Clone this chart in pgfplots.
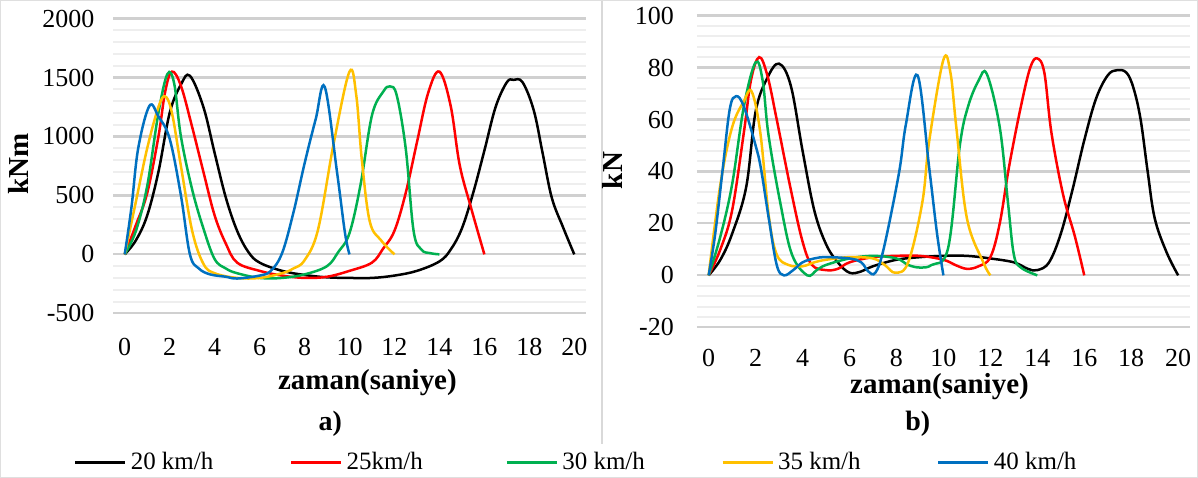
\documentclass[border=0pt]{standalone}
\usepackage{pgfplots}
\pgfplotsset{compat=1.18}
\usepackage{fontspec}
\setmainfont{Liberation Serif}
\definecolor{cA}{HTML}{000000}
\definecolor{cB}{HTML}{FF0000}
\definecolor{cC}{HTML}{00B050}
\definecolor{cD}{HTML}{FFC000}
\definecolor{cE}{HTML}{0070C0}
\definecolor{majg}{HTML}{D0D0D0}
\definecolor{ming}{HTML}{EEEEEE}
\pgfplotsset{
  panel/.style={
    scale only axis,
    anchor=south west,
    xmin=-0.5, xmax=20.5,
    xtick={0,2,...,20},
    axis line style={draw=none},
    tick style={draw=none},
    ymajorgrids, yminorgrids,
    minor y tick num=4,
    major grid style={majg, line width=1.1pt},
    minor grid style={ming, line width=1.0pt},
    /pgf/number format/assume math mode=true,
    /pgf/number format/set thousands separator={},
    ticklabel style={font=\fontsize{13}{15}\selectfont},
    label style={font=\bfseries\fontsize{14.5}{17}\selectfont},
    every axis plot/.append style={smooth, tension=0.6, line width=1.25pt, no markers},
    clip=false,
  },
}
\begin{document}
\begin{tikzpicture}
\draw[gray!25, line width=0.6pt] (0,0) rectangle (599pt,-238.5pt);
\draw[gray!30, line width=0.6pt] (301pt,0) -- (301pt,-222pt);
% left panel
\begin{axis}[panel,
  at={(56.5pt,-156.5pt)},
  width=236.25pt, height=147.5pt,
  ymin=-500, ymax=2000, ytick={-500,0,...,2000},
  xticklabel style={anchor=center, yshift=-17pt},
  yticklabel style={anchor=east, xshift=-6pt},
  xlabel={zaman(saniye)},
  xlabel style={at={(axis description cs:0.538,-0.234)}, anchor=center},
  ylabel={kNm},
  ylabel style={at={(axis description cs:-0.201,0.508)}, anchor=center, rotate=0},
  legend columns=5,
  legend style={draw=none, fill=none, inner sep=0pt, outer sep=0pt,
    at={(axis description cs:-0.084,-0.505)}, anchor=west,
    font=\fontsize{12.5}{15}\selectfont,
    /tikz/every odd column/.append style={column sep=0pt},
    /tikz/every even column/.append style={column sep=23.5pt}},
  legend image code/.code={\draw[#1, line width=1.5pt] (0pt,0pt) -- (25pt,0pt);},
]
\addplot[cA] coordinates {(0,0)(0.5,120)(1,330)(1.5,700)(2,1200)(2.5,1440)(2.9,1515)(3.5,1250)(4,860)(4.5,480)(5,200)(5.5,20)(6,-70)(7,-140)(8,-175)(9,-195)(10,-200)(11,-200)(12,-180)(13,-140)(14,-60)(14.5,40)(15,220)(15.5,520)(16,880)(16.5,1250)(17,1460)(17.3,1480)(17.7,1460)(18.2,1220)(18.6,850)(19,480)(19.5,230)(20,0)};
\addlegendentry{\makebox[54pt][l]{20 km/h}}
\addplot[cB] coordinates {(0,0)(0.5,250)(1,520)(1.5,1000)(1.8,1380)(2.1,1550)(2.5,1430)(3,1080)(3.5,700)(4,330)(4.5,90)(5,-70)(6,-140)(7,-180)(8,-200)(9,-190)(10,-140)(11,-70)(11.5,50)(12,200)(12.5,520)(13,950)(13.5,1370)(14,1550)(14.5,1260)(14.9,760)(15.4,400)(16,0)};
\addlegendentry{\makebox[54pt][l]{25km/h}}
\addplot[cC] coordinates {(0,0)(0.5,200)(1,580)(1.5,1200)(1.9,1530)(2.2,1450)(2.5,1000)(3,550)(3.5,220)(4,-40)(4.5,-120)(5,-160)(6,-200)(7,-200)(8,-170)(9,-100)(9.5,20)(10,180)(10.5,600)(11,1180)(11.5,1380)(11.8,1425)(12.1,1350)(12.5,900)(12.85,200)(13.2,40)(13.6,10)(14,0)};
\addlegendentry{\makebox[54pt][l]{30 km/h}}
\addplot[cD] coordinates {(0,0)(0.5,450)(1,900)(1.5,1250)(1.8,1340)(2.1,1200)(2.5,750)(3,200)(3.5,-80)(4,-160)(5,-200)(6,-200)(7,-160)(7.5,-120)(8,-50)(8.6,210)(9.3,945)(10,1550)(10.3,1350)(10.55,800)(10.9,280)(11.4,120)(12,0)};
\addlegendentry{\makebox[54pt][l]{35 km/h}}
\addplot[cE] coordinates {(0,0)(0.3,400)(0.6,900)(1.1,1260)(1.5,1170)(2,980)(2.5,500)(2.9,0)(3.3,-120)(3.8,-170)(4.5,-190)(5,-205)(6,-180)(6.5,-140)(7,10)(7.5,350)(8,770)(8.5,1150)(8.9,1420)(9.45,690)(9.8,180)(10,0)};
\addlegendentry{\makebox[54pt][l]{40 km/h}}
\end{axis}
\node[font=\bfseries\fontsize{14}{16}\selectfont] at (165pt,-212pt) {a)};
\node[font=\bfseries\fontsize{14}{16}\selectfont] at (459pt,-212pt) {b)};
% right panel
\begin{axis}[panel,
  at={(348.5pt,-163.5pt)},
  width=246.75pt, height=156pt,
  ymin=-20, ymax=100, ytick={-20,0,...,100},
  xticklabel style={anchor=center, yshift=-15.5pt},
  yticklabel style={anchor=east, xshift=-8pt},
  xlabel={zaman(saniye)},
  xlabel style={at={(axis description cs:0.492,-0.189)}, anchor=center},
  ylabel={kN},
  ylabel style={at={(axis description cs:-0.172,0.503)}, anchor=center, rotate=0},
]
\addplot[cA] coordinates {(0,0)(0.5,6)(1,16)(1.6,34)(2,63)(2.5,76)(3,81.5)(3.5,73)(4,48)(4.5,25)(5,12)(5.5,5)(6,1)(6.5,1.5)(7,3.5)(8,6)(9,7)(10,7.5)(11,7.5)(12,6.5)(13,5)(13.6,2.5)(14,2)(14.5,5)(15,16)(15.5,33)(16,52)(16.5,68)(17,77)(17.4,79)(17.8,78)(18.1,72)(18.4,60)(18.7,40)(19,22)(19.5,9)(20,0)};
\addplot[cB] coordinates {(0,0)(0.5,10)(1,25)(1.5,55)(1.8,75)(2.15,84)(2.5,77)(2.9,60)(3.5,33)(4,13)(4.4,4)(5,2)(5.5,2.5)(6,5)(7,7)(8,7.5)(9,7.5)(10,6)(10.5,4)(11,2.5)(11.5,3.5)(12,7)(12.4,20)(12.8,42)(13.3,65)(13.7,80)(14,83.5)(14.3,78)(14.6,55)(15.1,31)(15.6,15)(16,0)};
\addplot[cC] coordinates {(0,0)(0.5,15)(1,35)(1.5,65)(2,82)(2.3,75)(2.55,54)(3.05,28)(3.55,8)(4.2,0)(4.6,2)(5,4)(6,6.5)(7,7.5)(8,6.5)(8.5,4)(9,3)(9.5,4)(10.2,10.5)(10.7,50)(11.05,65)(11.5,75)(11.85,77.5)(12.4,57)(12.75,28)(13,8)(13.3,3)(14,0)};
\addplot[cD] coordinates {(0,0)(0.5,35)(1,57)(1.5,67)(1.83,70.8)(2.2,55)(2.56,23)(2.9,8)(3.4,4)(4,3.5)(4.5,5)(5,6)(6,7)(7,6.5)(7.5,4)(7.95,1)(8.5,5)(9.1,28)(9.4,52)(10,83)(10.3,78)(10.55,57)(11,22)(11.7,5)(12,0)};
\addplot[cE] coordinates {(0,0)(0.28,16)(0.6,41)(0.9,64)(1.17,69)(1.5,65)(2,50)(2.23,41)(2.56,22)(2.9,4)(3.2,0)(3.6,2)(4,5)(4.5,6.5)(5,7)(6,6.5)(6.5,5)(6.8,1.5)(7.1,1)(7.45,10)(8.1,39)(8.4,58)(8.9,77)(9.4,41)(9.73,16)(10,0)};
\end{axis}
\end{tikzpicture}
\end{document}
